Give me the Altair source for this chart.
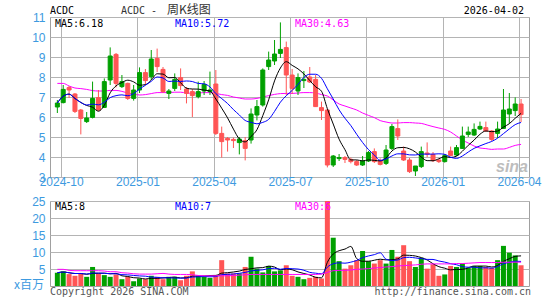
import altair as alt
import pandas as pd

# ---------------- data ----------------
weeks = list(range(80))
opens = [6.50, 6.72, 7.47, 7.15, 6.35, 5.77, 5.98, 6.97, 6.48, 7.85,
         9.13, 7.52, 7.68, 6.93, 7.35, 8.22, 8.02, 8.93, 8.38, 7.18,
         7.43, 7.97, 7.40, 7.27, 7.02, 7.30, 7.27, 7.65, 5.18, 4.93,
         4.88, 4.72, 4.82, 4.85, 6.10, 6.60, 8.52, 8.80, 9.18, 9.47,
         8.10, 7.30, 7.82, 8.00, 7.88, 6.47, 6.35, 3.60, 3.92, 3.97,
         3.88, 3.77, 3.60, 3.80, 4.27, 3.82, 3.68, 4.43, 5.42, 4.30,
         3.85, 3.30, 3.52, 4.20, 4.13, 3.85, 3.77, 4.30, 4.10, 4.43,
         5.13, 5.10, 5.40, 5.47, 5.30, 5.18, 5.43, 6.15, 6.32, 6.65]
highs = [6.85, 7.60, 7.55, 7.20, 6.40, 6.25, 7.77, 7.35, 7.93, 9.48,
         9.20, 8.10, 7.72, 7.60, 8.48, 8.40, 9.35, 9.42, 8.50, 7.40,
         8.18, 8.43, 7.50, 7.40, 7.77, 7.80, 8.27, 8.35, 5.52, 5.00,
         4.97, 5.00, 5.00, 6.43, 6.85, 8.43, 9.27, 9.85, 10.73, 9.77,
         8.40, 8.18, 8.30, 8.50, 8.10, 6.77, 6.38, 4.10, 4.15, 4.05,
         3.97, 3.85, 4.05, 4.30, 4.43, 3.93, 4.60, 5.65, 5.88, 4.52,
         3.95, 3.55, 4.52, 4.73, 4.25, 3.88, 4.15, 4.52, 4.60, 5.52,
         5.52, 5.68, 5.77, 5.77, 5.35, 5.77, 7.40, 7.20, 6.98, 6.90]
lows = [6.20, 6.68, 6.95, 6.20, 5.13, 5.70, 5.93, 6.30, 6.45, 7.60,
        7.48, 7.45, 6.85, 6.82, 7.20, 7.60, 7.85, 8.25, 7.20, 6.90,
        7.30, 7.35, 6.68, 6.00, 6.93, 7.10, 7.10, 5.10, 3.97, 4.27,
        4.45, 4.13, 3.83, 4.67, 5.83, 6.52, 8.35, 8.60, 8.95, 7.10,
        7.15, 7.10, 7.45, 7.70, 6.50, 5.85, 3.48, 3.50, 3.80, 3.70,
        3.68, 3.55, 3.55, 3.75, 3.70, 3.58, 3.60, 4.35, 4.85, 3.80,
        3.20, 3.05, 3.45, 4.00, 3.75, 3.70, 3.72, 4.05, 4.05, 4.40,
        5.00, 5.05, 5.35, 5.25, 4.80, 4.95, 5.40, 5.68, 6.05, 5.75]
closes = [6.70, 7.38, 7.35, 6.28, 5.93, 5.95, 6.93, 6.35, 7.77, 9.05,
          7.68, 7.77, 6.93, 7.35, 8.22, 7.82, 8.90, 8.52, 7.27, 7.30,
          7.88, 7.57, 7.18, 7.07, 7.27, 7.63, 7.35, 5.18, 4.77, 4.85,
          4.82, 4.90, 4.43, 6.15, 6.52, 8.35, 8.85, 9.15, 9.38, 8.10,
          7.43, 7.97, 7.88, 7.75, 6.52, 6.32, 3.60, 4.05, 3.97, 3.88,
          3.77, 3.60, 3.80, 4.22, 3.77, 3.63, 4.35, 5.52, 5.05, 3.85,
          3.27, 3.55, 4.27, 4.15, 3.82, 3.77, 4.07, 4.08, 4.47, 5.05,
          5.25, 5.38, 5.53, 5.30, 4.88, 5.40, 6.35, 6.40, 6.65, 6.12]
volumes = [3.9, 4.3, 3.5, 3.0, 3.7, 2.7, 5.6, 3.7, 3.2, 2.7,
           3.4, 2.0, 2.7, 1.4, 2.2, 2.0, 3.0, 2.7, 2.0, 2.7,
           2.7, 1.7, 3.0, 4.3, 3.0, 2.7, 2.4, 3.2, 7.6, 3.7,
           3.7, 3.7, 5.6, 8.6, 5.1, 4.0, 5.9, 4.3, 4.6, 6.1,
           3.0, 2.7, 2.0, 2.4, 2.7, 2.2, 25.5, 14.2, 7.3, 5.1,
           6.1, 7.6, 10.3, 7.3, 6.6, 7.6, 6.6, 10.6, 8.6, 12.0,
           7.3, 5.6, 8.3, 5.1, 6.4, 3.0, 3.4, 5.9, 5.6, 6.6,
           5.3, 5.9, 5.9, 5.6, 5.3, 7.6, 11.8, 9.8, 9.0, 6.1]
price_ma30 = [7.68, 7.68, 7.55, 7.45, 7.42, 7.38, 7.32, 7.30, 7.30, 7.33,
              7.33, 7.28, 7.20, 7.15, 7.10, 7.12, 7.17, 7.22, 7.22, 7.22,
              7.24, 7.24, 7.20, 7.18, 7.20, 7.22, 7.22, 7.18, 7.12, 7.08,
              7.00, 6.95, 6.90, 6.90, 6.93, 7.00, 7.07, 7.13, 7.17, 7.18,
              7.18, 7.20, 7.22, 7.22, 7.20, 7.12, 7.05, 6.85, 6.65, 6.55,
              6.45, 6.35, 6.20, 6.08, 5.97, 5.82, 5.75, 5.70, 5.70, 5.72,
              5.72, 5.70, 5.68, 5.60, 5.52, 5.45, 5.38, 5.25, 5.05, 4.85,
              4.70, 4.55, 4.45, 4.42, 4.38, 4.40, 4.40, 4.48, 4.58, 4.63]
volume_ma30 = [4.9, 4.9, 4.6, 4.5, 4.5, 4.5, 4.5, 4.5, 4.4, 4.2,
               4.2, 3.9, 3.8, 3.6, 3.5, 3.5, 3.5, 3.6, 3.7, 3.5,
               3.4, 3.4, 3.4, 3.3, 3.1, 3.0, 3.0, 3.0, 3.0, 3.0,
               3.1, 3.2, 3.3, 3.4, 3.4, 3.4, 3.4, 3.4, 3.4, 3.4,
               3.4, 3.4, 3.4, 3.4, 3.4, 3.5, 4.0, 4.5, 4.6, 4.6,
               4.7, 4.9, 5.0, 5.1, 5.3, 5.4, 5.6, 5.7, 5.9, 6.0,
               6.1, 6.2, 6.4, 6.5, 6.5, 6.5, 6.5, 6.5, 6.6, 6.6,
               6.7, 6.8, 6.9, 6.9, 6.9, 6.9, 7.0, 7.0, 7.0, 7.0]
month_labels = ["2024-10", "2025-01", "2025-04", "2025-07", "2025-10", "2026-01", "2026-04"]
month_pos = [0.65, 13.65, 26.65, 39.65, 52.65, 65.65, 78.65]
price_ticks = [3, 4, 5, 6, 7, 8, 9, 10, 11]
volume_ticks = [5, 10, 15, 20, 25]

# ---------------- styling ----------------
BLUE = "#3d9ae0"
RED = "#ff5555"
GREEN = "#00a000"
GRID = "#b4b4b4"
MONO = "DejaVu Sans Mono"
W, HP, HV = 479, 160, 85

df = pd.DataFrame({"i": weeks, "open": opens, "high": highs, "low": lows,
                   "close": closes, "vol": volumes,
                   "pma30": price_ma30, "vma30": volume_ma30})
df["dir"] = ["up" if c >= o else "down" for o, c in zip(opens, closes)]

color = alt.Color("dir:N", scale=alt.Scale(domain=["up", "down"], range=[GREEN, RED]), legend=None)
xs = alt.Scale(domain=[-0.4, 79.5], nice=False, zero=False)

month_expr = ""
for p, lab in zip(month_pos, month_labels):
    month_expr += f"datum.value < {p + 0.5} ? '{lab}' : "
month_expr += "''"

x_price = alt.X("i:Q", scale=xs, title=None,
                axis=alt.Axis(values=month_pos, labelExpr=month_expr, grid=True,
                              gridColor=GRID, domain=False, ticks=False, tickSize=0,
                              labelColor=BLUE, labelFont="Liberation Sans", labelFontSize=12,
                              labelBaseline="alphabetic", labelPadding=8,
                              labelOverlap=False, labelFlush=False))
py_scale = alt.Scale(domain=[3, 11], nice=False, zero=False)
y_axis_price = alt.Axis(values=price_ticks, grid=True, gridColor=GRID, domain=False,
                        ticks=False, tickSize=0, labelColor=BLUE, labelFont="Liberation Sans",
                        labelFontSize=12, labelPadding=5, labelOverlap=False, format="d")

base = alt.Chart(df)

wick = base.mark_rule(strokeWidth=1, clip=True).encode(
    x=x_price, y=alt.Y("low:Q", scale=py_scale, axis=y_axis_price, title=None),
    y2="high:Q", color=color)
body = base.mark_bar(size=4, strokeWidth=1, clip=True).encode(
    x=x_price, y=alt.Y("open:Q", scale=py_scale, axis=y_axis_price, title=None),
    y2="close:Q", color=color, stroke=color)
ma5 = base.transform_window(ma5="mean(close)", frame=[-4, 0], sort=[alt.SortField("i")]).mark_line(
    color="black", strokeWidth=1, interpolate="monotone", clip=True).encode(
    x=x_price, y=alt.Y("ma5:Q", scale=py_scale, axis=y_axis_price, title=None))
ma10 = base.transform_window(ma10="mean(close)", frame=[-9, 0], sort=[alt.SortField("i")]).mark_line(
    color="#0000ff", strokeWidth=1, interpolate="monotone", clip=True).encode(
    x=x_price, y=alt.Y("ma10:Q", scale=py_scale, axis=y_axis_price, title=None))
ma30 = base.mark_line(color="#ff00ff", strokeWidth=1, interpolate="monotone", clip=True).encode(
    x=x_price, y=alt.Y("pma30:Q", scale=py_scale, axis=y_axis_price, title=None))


def label(text, px, py, col="black", size=10, font=MONO, align="left", **kw):
    return alt.Chart(pd.DataFrame({"t": [text]})).mark_text(
        align=align, baseline="alphabetic", fontSize=size, font=font, color=col, **kw
    ).encode(text="t:N", x=alt.value(px), y=alt.value(py))


# invisible anchors fixing the page's top-left corner (and bottom edge)
anchor_top = alt.Chart(pd.DataFrame({"a": [0]})).mark_rule(strokeOpacity=0, strokeWidth=1).encode(
    x=alt.value(-49.5), x2=alt.value(494.5), y=alt.value(-16.5))

price_texts = [
    label("ACDC", 0, -3),
    label("ACDC -", 71, -3, col="#333333"),
    label("周K线图", 117, -3, col="#333333", size=12, font="Noto Sans CJK SC"),
    label("2026-04-02", 474, -3, align="right"),
    label("MA5:6.18", 5, 10),
    label("MA10:5.72", 125, 10, col="#0000ff"),
    label("MA30:4.63", 245, 10, col="#ff00ff"),
    label("sina", 446, 155, col="#bdbdbd", size=16, font="Liberation Sans",
          fontStyle="italic", fontWeight="bold"),
]

price = alt.layer(anchor_top, ma30, wick, body, ma5, ma10, *price_texts).properties(width=W, height=HP)

x_vol = alt.X("i:Q", scale=xs, axis=None)
vy_scale = alt.Scale(domain=[0, 25], nice=False, zero=True)
y_axis_vol = alt.Axis(values=volume_ticks, grid=True, gridColor=GRID, domain=False,
                      ticks=False, tickSize=0, labelColor=BLUE, labelFont="Liberation Sans",
                      labelFontSize=12, labelPadding=5, labelOverlap=False, format="d")

vbars = base.mark_bar(size=5, clip=True).encode(
    x=x_vol, y=alt.Y("vol:Q", scale=vy_scale, axis=y_axis_vol, title=None), color=color)
vma5 = base.transform_window(v5="mean(vol)", frame=[-4, 0], sort=[alt.SortField("i")]).mark_line(
    color="black", strokeWidth=1, interpolate="monotone", clip=True).encode(
    x=x_vol, y=alt.Y("v5:Q", scale=vy_scale, axis=y_axis_vol, title=None))
vma10 = base.transform_window(v10="mean(vol)", frame=[-9, 0], sort=[alt.SortField("i")]).mark_line(
    color="#0000ff", strokeWidth=1, interpolate="monotone", clip=True).encode(
    x=x_vol, y=alt.Y("v10:Q", scale=vy_scale, axis=y_axis_vol, title=None))
vma30 = base.mark_line(color="#ff00ff", strokeWidth=1, interpolate="monotone", clip=True).encode(
    x=x_vol, y=alt.Y("vma30:Q", scale=vy_scale, axis=y_axis_vol, title=None))

anchor_bottom = alt.Chart(pd.DataFrame({"a": [0]})).mark_rule(strokeOpacity=0, strokeWidth=1).encode(
    x=alt.value(-49.5), x2=alt.value(494.5), y=alt.value(98.5))

vol_texts = [
    label("MA5:8", 5, 9),
    label("MA10:7", 125, 9, col="#0000ff"),
    label("MA30:6", 245, 9, col="#ff00ff"),
    label("x百万", -6, 88, col=BLUE, size=12, font="Noto Sans CJK SC", align="right"),
    label("Copyright 2026 SINA.COM", 0, 94, col="#555555"),
    label("http://finance.sina.com.cn", 481, 94, col="#555555", align="right"),
]

volume = alt.layer(anchor_bottom, vbars, vma5, vma10, vma30, *vol_texts).properties(width=W, height=HV)

chart = alt.vconcat(price, volume, spacing=24, bounds="flush").properties(
    padding=0,
    autosize=alt.AutoSizeParams(type="pad"),
    background="white",
).configure_view(stroke="#a0a0a0", strokeWidth=1)

chart.save("out.html", embed_options={"renderer": "svg", "actions": False})
